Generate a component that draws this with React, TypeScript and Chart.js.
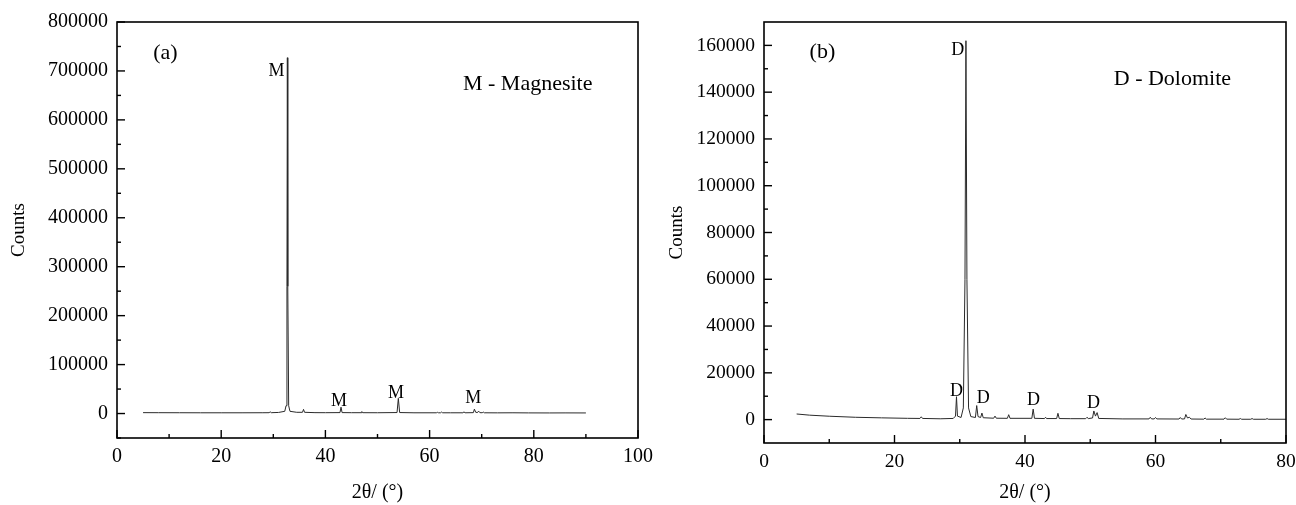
import React, { useEffect, useRef } from "react";
import { Chart, registerables } from "chart.js";

Chart.register(...registerables);

const SERIF = "'Liberation Serif', 'Times New Roman', Times, serif";

// ---------- Panel (a): Magnesite ----------
const magnesiteTheta = [
  5, 8, 12, 16, 20, 24, 28, 29.2, 29.4, 29.6,
  31, 32.2, 32.45, 32.62, 32.7, 32.78, 32.95, 33.2, 34.5, 35.6,
  35.8, 36.0, 38, 40, 42.8, 43.0, 43.2, 45, 46.85, 47.0,
  47.15, 50, 53.75, 54.0, 54.25, 57, 61.3, 61.5, 61.7, 62.1,
  62.3, 62.5, 64, 66.4, 66.6, 66.8, 68.4, 68.6, 68.85, 69.2,
  69.4, 69.65, 70.1, 70.3, 70.5, 73, 76, 79, 83, 86,
  90,
];
const magnesiteCounts = [
  1800, 1700, 1600, 1500, 1500, 1500, 1600, 1700, 3500, 1700,
  2200, 4500, 16000, 260000, 727000, 260000, 16000, 4500, 2500, 2500,
  8500, 2500, 1800, 1700, 1900, 13000, 1900, 1700, 1700, 4000,
  1700, 1600, 2000, 31000, 2000, 1500, 1500, 2500, 1500, 1500,
  3000, 1500, 1500, 1500, 3500, 1500, 1800, 9000, 2500, 2000,
  5000, 1800, 1600, 3000, 1500, 1400, 1500, 1300, 1200, 1300,
  1200,
];
const magnesiteXMajor = [0, 20, 40, 60, 80, 100];
const magnesiteXMinor = [10, 30, 50, 70, 90];
const magnesiteYMajor = [0, 100000, 200000, 300000, 400000, 500000, 600000, 700000, 800000];
const magnesiteYMinor = [-50000, 50000, 150000, 250000, 350000, 450000, 550000, 650000, 750000];
const magnesitePeakText = ["M", "M", "M", "M"];
const magnesitePeakTheta = [30.6, 42.6, 53.55, 68.4];
const magnesitePeakCounts = [700000, 25800, 42100, 30700];
const magnesiteNoteText = ["(a)", "M - Magnesite"];
const magnesiteNoteTheta = [9.3, 66.4];
const magnesiteNoteCounts = [737000, 672800];

// ---------- Panel (b): Dolomite ----------
const dolomiteTheta = [
  5, 7, 10, 14, 18, 22, 23.9, 24.1, 24.3, 27,
  29.0, 29.35, 29.5, 29.65, 30.2, 30.55, 30.8, 30.95, 31.1, 31.35,
  31.7, 32.4, 32.6, 32.8, 33.2, 33.4, 33.6, 35.2, 35.4, 35.6,
  37.3, 37.5, 37.7, 41.05, 41.25, 41.45, 43.0, 43.15, 43.3, 44.85,
  45.05, 45.25, 47, 49.3, 49.5, 49.7, 50.35, 50.55, 50.8, 51.05,
  51.3, 55, 59.0, 59.2, 59.4, 59.8, 60.0, 60.2, 63.6, 63.8,
  64.0, 64.45, 64.65, 64.9, 65.2, 65.45, 67.4, 67.6, 67.8, 70.5,
  70.7, 70.9, 72.8, 73.0, 73.2, 74.6, 74.8, 75.0, 76.9, 77.1,
  77.3, 80,
];
const dolomiteCounts = [
  2400, 1900, 1450, 1000, 750, 550, 500, 1200, 500, 350,
  500, 1500, 9800, 1500, 900, 5000, 60000, 162000, 60000, 5000,
  1300, 900, 6000, 1300, 900, 2800, 800, 600, 1500, 600,
  550, 2100, 550, 550, 4500, 550, 450, 1000, 450, 450,
  2700, 450, 400, 400, 1000, 450, 700, 3700, 1500, 3000,
  500, 300, 300, 1000, 300, 300, 900, 300, 250, 900,
  250, 300, 2200, 700, 1000, 250, 200, 700, 200, 200,
  800, 200, 150, 450, 150, 150, 450, 150, 150, 450,
  150, 150,
];
const dolomiteXMajor = [0, 20, 40, 60, 80];
const dolomiteXMinor = [10, 30, 50, 70];
const dolomiteYMajor = [0, 20000, 40000, 60000, 80000, 100000, 120000, 140000, 160000];
const dolomiteYMinor = [10000, 30000, 50000, 70000, 90000, 110000, 130000, 150000];
const dolomitePeakText = ["D", "D", "D", "D", "D"];
const dolomitePeakTheta = [29.7, 29.5, 33.6, 41.3, 50.5];
const dolomitePeakCounts = [157800, 12100, 9100, 8400, 7100];
const dolomiteNoteText = ["(b)", "D - Dolomite"];
const dolomiteNoteTheta = [8.95, 53.6];
const dolomiteNoteCounts = [157200, 145600];

type Spec = {
  theta: number[];
  counts: number[];
  xMin: number;
  xMax: number;
  yMin: number;
  yMax: number;
  xMajor: number[];
  xMinor: number[];
  yMajor: number[];
  yMinor: number[];
  peakText: string[];
  peakTheta: number[];
  peakCounts: number[];
  noteText: string[];
  noteTheta: number[];
  noteCounts: number[];
  yAxisWidth: number;
  xAxisHeight: number;
  padTop: number;
  padRight: number;
  tickSize: number;
  yTitlePad: number;
};

function framePlugin(spec: Spec) {
  return {
    id: "xrdFrame",
    afterDatasetsDraw(chart: any) {
      const { ctx, chartArea: a } = chart;
      const xs = chart.scales.x;
      const ys = chart.scales.y;
      ctx.save();
      ctx.strokeStyle = "#000";
      ctx.lineWidth = 1.6;
      ctx.strokeRect(a.left, a.top, a.right - a.left, a.bottom - a.top);
      ctx.lineWidth = 1.4;
      for (const t of xs.ticks) {
        const p = xs.getPixelForValue(t.value);
        const len = spec.xMajor.includes(t.value) ? 8 : 4;
        ctx.beginPath();
        ctx.moveTo(p, a.bottom);
        ctx.lineTo(p, a.bottom - len);
        ctx.stroke();
      }
      for (const t of ys.ticks) {
        const p = ys.getPixelForValue(t.value);
        const len = spec.yMajor.includes(t.value) ? 8 : 4;
        ctx.beginPath();
        ctx.moveTo(a.left, p);
        ctx.lineTo(a.left + len, p);
        ctx.stroke();
      }
      ctx.fillStyle = "#000";
      ctx.textBaseline = "middle";
      ctx.textAlign = "center";
      ctx.font = `18px ${SERIF}`;
      spec.peakText.forEach((txt, i) => {
        ctx.fillText(txt, xs.getPixelForValue(spec.peakTheta[i]), ys.getPixelForValue(spec.peakCounts[i]));
      });
      ctx.font = `22px ${SERIF}`;
      spec.noteText.forEach((txt, i) => {
        ctx.textAlign = i === 0 ? "center" : "left";
        ctx.fillText(txt, xs.getPixelForValue(spec.noteTheta[i]), ys.getPixelForValue(spec.noteCounts[i]));
      });
      ctx.restore();
    },
  };
}

function XrdPanel({ spec, left, width }: { spec: Spec; left: number; width: number }) {
  const ref = useRef<HTMLCanvasElement | null>(null);
  useEffect(() => {
    if (!ref.current) return;
    const points = spec.theta.map((x, i) => ({ x, y: spec.counts[i] }));
    const xTicks = [...spec.xMajor, ...spec.xMinor].sort((p, q) => p - q);
    const yTicks = [...spec.yMajor, ...spec.yMinor].sort((p, q) => p - q);
    const chart = new Chart(ref.current, {
      type: "line",
      data: {
        datasets: [
          {
            data: points,
            borderColor: "#2a2a2a",
            borderWidth: 1,
            pointRadius: 0,
            tension: 0,
            fill: false,
          },
        ],
      },
      options: {
        animation: false,
        responsive: false,
        devicePixelRatio: 1,
        layout: { padding: { left: 0, top: spec.padTop, right: spec.padRight, bottom: 0 } },
        plugins: { legend: { display: false }, tooltip: { enabled: false }, title: { display: false } },
        scales: {
          x: {
            type: "linear",
            min: spec.xMin,
            max: spec.xMax,
            grid: { display: false, drawTicks: false },
            border: { display: false },
            afterBuildTicks: (scale: any) => {
              scale.ticks = xTicks.map((v) => ({ value: v }));
            },
            afterFit: (scale: any) => {
              scale.height = spec.xAxisHeight;
            },
            ticks: {
              autoSkip: false,
              maxRotation: 0,
              padding: 7,
              color: "#000",
              font: { family: SERIF, size: spec.tickSize },
              callback: (v: any) => (spec.xMajor.includes(Number(v)) ? String(v) : ""),
            },
            title: {
              display: true,
              text: "2θ/ (°)",
              color: "#000",
              font: { family: SERIF, size: 20 },
              padding: { top: 0, bottom: 0 },
            },
          },
          y: {
            type: "linear",
            min: spec.yMin,
            max: spec.yMax,
            grid: { display: false, drawTicks: false },
            border: { display: false },
            afterBuildTicks: (scale: any) => {
              scale.ticks = yTicks.map((v) => ({ value: v }));
            },
            afterFit: (scale: any) => {
              scale.width = spec.yAxisWidth;
            },
            ticks: {
              autoSkip: false,
              padding: 9,
              color: "#000",
              font: { family: SERIF, size: spec.tickSize },
              callback: (v: any) => (spec.yMajor.includes(Number(v)) ? String(v) : ""),
            },
            title: {
              display: true,
              text: "Counts",
              color: "#000",
              font: { family: SERIF, size: 19 },
              padding: { top: spec.yTitlePad, bottom: 0 },
            },
          },
        },
      },
      plugins: [framePlugin(spec)],
    } as any);
    return () => chart.destroy();
  }, [spec]);
  return (
    <canvas
      ref={ref}
      width={width}
      height={505}
      style={{ position: "absolute", left, top: 0, width, height: 505 }}
    />
  );
}

const specA: Spec = {
  theta: magnesiteTheta,
  counts: magnesiteCounts,
  xMin: 0,
  xMax: 100,
  yMin: -50000,
  yMax: 800000,
  xMajor: magnesiteXMajor,
  xMinor: magnesiteXMinor,
  yMajor: magnesiteYMajor,
  yMinor: magnesiteYMinor,
  peakText: magnesitePeakText,
  peakTheta: magnesitePeakTheta,
  peakCounts: magnesitePeakCounts,
  noteText: magnesiteNoteText,
  noteTheta: magnesiteNoteTheta,
  noteCounts: magnesiteNoteCounts,
  yAxisWidth: 117,
  xAxisHeight: 67,
  padTop: 22,
  padRight: 22,
  tickSize: 20,
  yTitlePad: 7.6,
};

const specB: Spec = {
  theta: dolomiteTheta,
  counts: dolomiteCounts,
  xMin: 0,
  xMax: 80,
  yMin: -10000,
  yMax: 170000,
  xMajor: dolomiteXMajor,
  xMinor: dolomiteXMinor,
  yMajor: dolomiteYMajor,
  yMinor: dolomiteYMinor,
  peakText: dolomitePeakText,
  peakTheta: dolomitePeakTheta,
  peakCounts: dolomitePeakCounts,
  noteText: dolomiteNoteText,
  noteTheta: dolomiteNoteTheta,
  noteCounts: dolomiteNoteCounts,
  yAxisWidth: 116,
  xAxisHeight: 62,
  padTop: 22,
  padRight: 24,
  tickSize: 19.5,
  yTitlePad: 18,
};

export default function App() {
  return (
    <div style={{ position: "fixed", left: 0, top: 0, width: 1296, height: 505, background: "#fff", overflow: "hidden" }}>
      <XrdPanel spec={specA} left={0} width={660} />
      <XrdPanel spec={specB} left={648} width={662} />
    </div>
  );
}
